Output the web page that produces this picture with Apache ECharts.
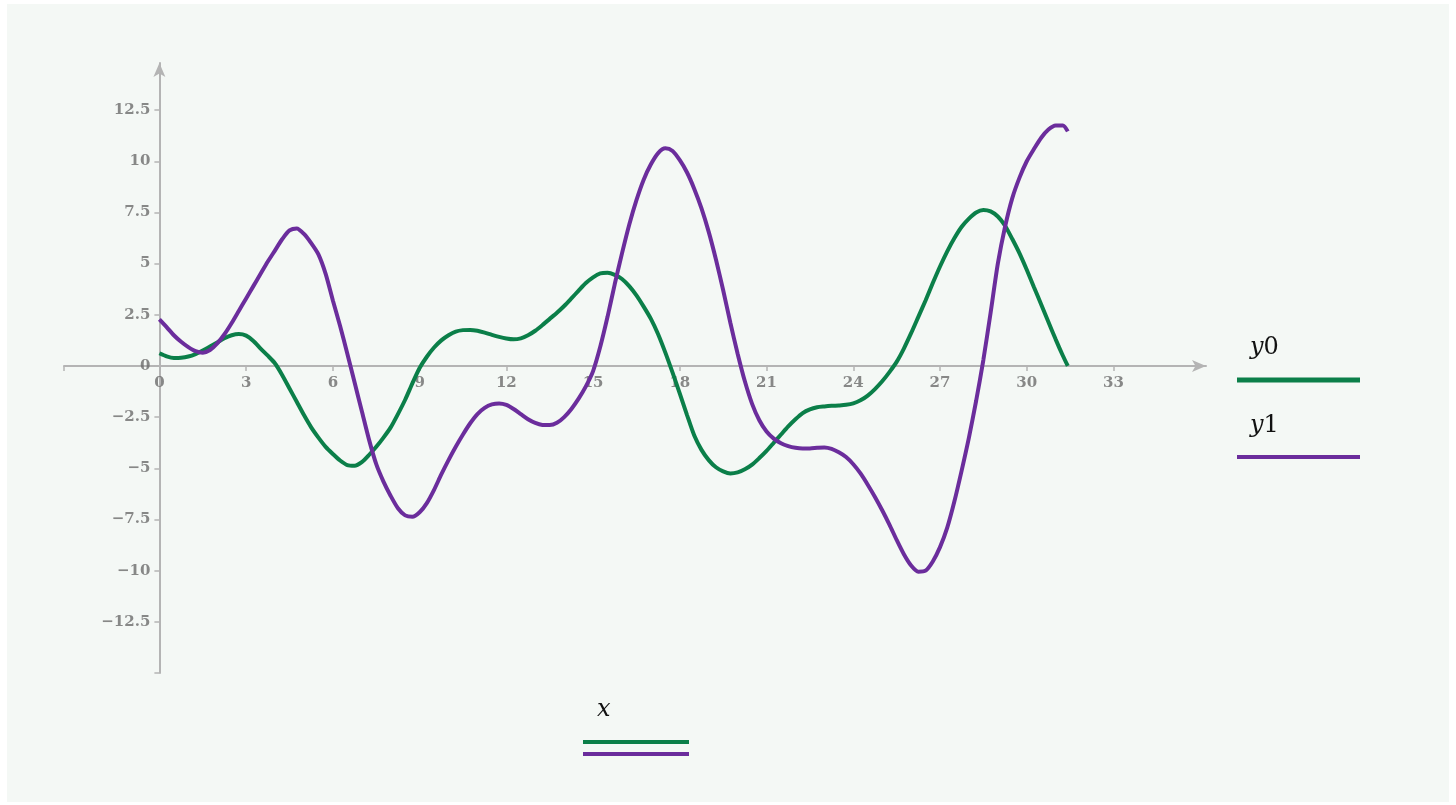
<!DOCTYPE html>
<html>
<head>
<meta charset="utf-8">
<title>y0, y1 vs x</title>
<script src="https://cdn.jsdelivr.net/npm/echarts@6/dist/echarts.min.js"></script>
<style>
  html, body { margin: 0; padding: 0; background: #ffffff; }
  #panel {
    position: absolute; left: 7px; top: 4px;
    width: 1442px; height: 798px;
    background: #f4f8f5;
  }
  #chart { position: absolute; left: 0; top: 0; width: 1456px; height: 805px; }
</style>
</head>
<body>
<div id="panel"></div>
<div id="chart"></div>
<script>
// sample positions along x (one row per unit), shared by both traces
var xs = [
  0, 0.25, 0.5, 0.75,   1, 1.25, 1.5, 1.75,   2, 2.25, 2.5, 2.75,   3, 3.25, 3.5, 3.75,
  4, 4.25, 4.5, 4.75,   5, 5.25, 5.5, 5.75,   6, 6.25, 6.5, 6.75,   7, 7.25, 7.5, 7.75,
  8, 8.25, 8.5, 8.75,   9, 9.25, 9.5, 9.75,   10, 10.25, 10.5, 10.75, 11, 11.25, 11.5, 11.75,
  12, 12.25, 12.5, 12.75, 13, 13.25, 13.5, 13.75, 14, 14.25, 14.5, 14.75, 15, 15.25, 15.5, 15.75,
  16, 16.25, 16.5, 16.75, 17, 17.25, 17.5, 17.75, 18, 18.25, 18.5, 18.75, 19, 19.25, 19.5, 19.75,
  20, 20.25, 20.5, 20.75, 21, 21.25, 21.5, 21.75, 22, 22.25, 22.5, 22.75, 23, 23.25, 23.5, 23.75,
  24, 24.25, 24.5, 24.75, 25, 25.25, 25.5, 25.75, 26, 26.25, 26.5, 26.75, 27, 27.25, 27.5, 27.75,
  28, 28.25, 28.5, 28.75, 29, 29.25, 29.5, 29.75, 30, 30.25, 30.5, 30.75, 31, 31.25, 31.42];

// trace y0 (green)
var y0 = [
  0.62, 0.47, 0.39, 0.4,     0.46, 0.58, 0.75, 0.95,    1.15, 1.35, 1.5, 1.56,
  1.48, 1.22, 0.85, 0.5,     0.12, -0.45, -1.1, -1.75,  -2.4, -3.0, -3.5, -3.95,
  -4.3, -4.62, -4.84, -4.87, -4.7, -4.35, -3.95, -3.5,  -3.0, -2.35, -1.65, -0.85,
  -0.1, 0.45, 0.9, 1.25,     1.5, 1.68, 1.75, 1.76,     1.72, 1.63, 1.52, 1.42,
  1.34, 1.3, 1.35, 1.5,      1.72, 2.0, 2.3, 2.6,       2.93, 3.3, 3.68, 4.05,
  4.33, 4.52, 4.55, 4.45,    4.25, 3.9, 3.45, 2.9,      2.3, 1.55, 0.65, -0.33,
  -1.35, -2.4, -3.4, -4.1,   -4.6, -4.95, -5.15, -5.25, -5.2, -5.05, -4.82, -4.5,
  -4.15, -3.75, -3.35, -2.95, -2.6, -2.3, -2.12, -2.02, -1.98, -1.95, -1.93, -1.9,
  -1.83, -1.68, -1.45, -1.13, -0.75, -0.3, 0.2, 0.85,   1.6, 2.4, 3.2, 4.05,
  4.86, 5.6, 6.25, 6.8,      7.2, 7.5, 7.62, 7.55,      7.3, 6.85, 6.2, 5.5,
  4.7, 3.85, 3.0, 2.15,      1.3, 0.5, 0];

// trace y1 (purple)
var y1 = [
  2.28, 1.9, 1.5, 1.18,      0.92, 0.72, 0.65, 0.78,    1.1, 1.55, 2.1, 2.7,
  3.3, 3.9, 4.5, 5.1,        5.65, 6.2, 6.62, 6.72,     6.45, 6.0, 5.45, 4.5,
  3.2, 1.95, 0.6, -0.8,      -2.2, -3.6, -4.8, -5.65,   -6.35, -6.95, -7.3, -7.37,
  -7.15, -6.7, -6.05, -5.3,  -4.6, -3.95, -3.35, -2.8,  -2.35, -2.05, -1.88, -1.83,
  -1.9, -2.1, -2.35, -2.6,   -2.78, -2.88, -2.89, -2.78, -2.5, -2.1, -1.6, -1.0,
  -0.25, 0.95, 2.4, 4.0,     5.5, 6.9, 8.1, 9.1,        9.85, 10.4, 10.63, 10.5,
  10.05, 9.45, 8.65, 7.7,    6.55, 5.2, 3.7, 2.1,       0.6, -0.75, -1.85, -2.65,
  -3.2, -3.55, -3.78, -3.92, -4.0, -4.03, -4.03, -4.0,  -3.98, -4.05, -4.22, -4.45,
  -4.8, -5.25, -5.8, -6.4,   -7.05, -7.75, -8.5, -9.2,  -9.75, -10.05, -10.0, -9.55,
  -8.85, -7.9, -6.6, -5.1,   -3.5, -1.7, 0.3, 2.6,      5.0, 6.8, 8.2, 9.2,
  10.0, 10.6, 11.15, 11.55,  11.75, 11.75, 11.46];

var xTicks = [0, 3, 6, 9, 12, 15, 18, 21, 24, 27, 30, 33];
var yTicks = [-12.5, -10, -7.5, -5, -2.5, 0, 2.5, 5, 7.5, 10, 12.5];

var GREEN = '#0b7f49';
var PURPLE = '#6b2d9c';
var AXIS = '#b4b4b4';
var LABEL = '#6c6c6c';

function pairs(xv, yv) {
  var out = [];
  for (var i = 0; i < xv.length; i++) out.push([xv[i], yv[i]]);
  return out;
}

function fmtMinus(v) {
  return v < 0 ? '\u2212' + (-v) : String(v);
}

var chart = echarts.init(document.getElementById('chart'), null, { renderer: 'canvas' });

var labelFont = {
  color: LABEL, fontFamily: 'DejaVu Serif', fontWeight: 'bold', fontSize: 15
};

// tick labels ride along the axes crossing at the origin, so they are
// drawn as invisible scatter points with labels
function tickLabelSeries(data, pos, dist, valueIdx) {
  return {
    type: 'scatter', silent: true, symbolSize: 0, z: 1,
    data: data,
    label: Object.assign({
      show: true, position: pos, distance: dist,
      formatter: function (p) { return fmtMinus(p.value[valueIdx]); }
    }, labelFont)
  };
}

// smooth kept at 0.25 so bezier handles of neighbouring points never cross
function traceSeries(name, color, ys, z) {
  return {
    name: name, type: 'line', smooth: 0.25, showSymbol: false, z: z,
    lineStyle: { color: color, width: 4 },
    data: pairs(xs, ys)
  };
}

var option = {
  backgroundColor: 'transparent',
  animation: false,
  grid: { left: 64, top: 63, width: 1142, height: 610, containLabel: false },
  xAxis: {
    type: 'value',
    min: -3.3,
    max: 36.2,
    splitLine: { show: false },
    axisLine: {
      onZero: true,
      lineStyle: { color: AXIS, width: 2 },
      symbol: ['none', 'arrow'],
      symbolSize: [9, 14],
      symbolOffset: [0, 0]
    },
    axisTick: {
      customValues: [-3.3].concat(xTicks),
      length: 5,
      lineStyle: { color: AXIS, width: 1.5 }
    },
    axisLabel: { show: false, customValues: xTicks }
  },
  yAxis: {
    type: 'value',
    min: -15,
    max: 14.8,
    interval: 2.5,
    splitLine: { show: false },
    axisLine: {
      onZero: true,
      lineStyle: { color: AXIS, width: 2 },
      symbol: ['none', 'arrow'],
      symbolSize: [9, 14],
      symbolOffset: [0, 0]
    },
    axisTick: {
      customValues: [-15].concat(yTicks),
      length: 5,
      lineStyle: { color: AXIS, width: 1.5 }
    },
    axisLabel: { show: false, customValues: yTicks }
  },
  series: [
    tickLabelSeries(xTicks.map(function (v) { return [v, 0]; }), 'bottom', 10, 0),
    tickLabelSeries(yTicks.map(function (v) { return [0, v]; }), 'left', 9, 1),
    traceSeries('y0', GREEN, y0, 3),
    traceSeries('y1', PURPLE, y1, 4)
  ],
  graphic: [
    // right-hand legend for the two traces
    {
      type: 'text', left: 1250, top: 336,
      style: {
        text: '{i|y}{n|0}',
        rich: {
          i: { fontFamily: 'DejaVu Serif', fontStyle: 'italic', fontSize: 24, fill: '#111' },
          n: { fontFamily: 'DejaVu Serif', fontSize: 24, fill: '#111' }
        }
      }
    },
    { type: 'line', shape: { x1: 1237, y1: 380, x2: 1360, y2: 380 },
      style: { stroke: GREEN, lineWidth: 5 } },
    {
      type: 'text', left: 1250, top: 414,
      style: {
        text: '{i|y}{n|1}',
        rich: {
          i: { fontFamily: 'DejaVu Serif', fontStyle: 'italic', fontSize: 24, fill: '#111' },
          n: { fontFamily: 'DejaVu Serif', fontSize: 24, fill: '#111' }
        }
      }
    },
    { type: 'line', shape: { x1: 1237, y1: 457, x2: 1360, y2: 457 },
      style: { stroke: PURPLE, lineWidth: 4 } },
    // x label under the plot
    {
      type: 'text', left: 597, top: 698,
      style: { text: 'x', fontFamily: 'DejaVu Serif', fontStyle: 'italic', fontSize: 24, fill: '#111' }
    },
    { type: 'line', shape: { x1: 583, y1: 742, x2: 689, y2: 742 },
      style: { stroke: GREEN, lineWidth: 4 } },
    { type: 'line', shape: { x1: 583, y1: 754, x2: 689, y2: 754 },
      style: { stroke: PURPLE, lineWidth: 4 } }
  ]
};

chart.setOption(option);
</script>
</body>
</html>
